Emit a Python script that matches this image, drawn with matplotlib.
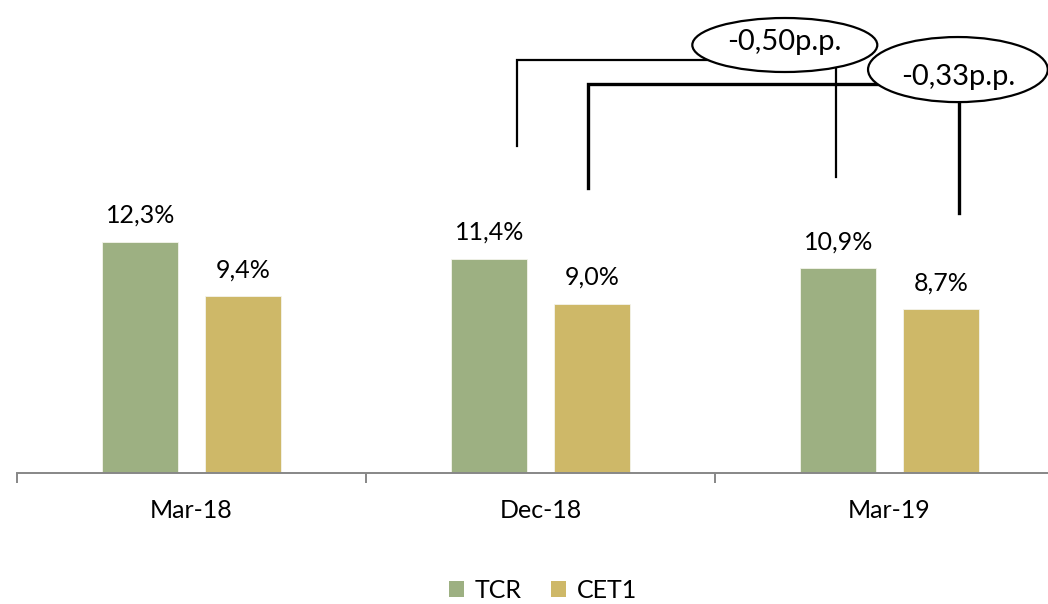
import matplotlib
matplotlib.use("Agg")
import matplotlib.pyplot as plt
from matplotlib.patches import Ellipse, Patch
import numpy as np

plt.rcParams['font.family'] = ['Lato', 'DejaVu Sans']

categories = ['Mar-18', 'Dec-18', 'Mar-19']
tcr = [12.3, 11.4, 10.9]
cet1 = [9.4, 9.0, 8.7]
series_names = ['TCR', 'CET1']
colors = ['#9DB082', '#CEB868']

# change callouts: text, bracket (x_left, y_left_bottom, x_right, y_right_bottom, y_top), line width
callouts = [
    ('-0,50p.p.', (0.933, 17.4, 1.847, 15.75, 22.0), 1.6),
    ('-0,33p.p.', (1.136, 15.15, 2.199, 13.85, 20.7), 2.4),
]
# ellipse centre, size and text position for each callout
ellipses = [
    ((1.700, 22.8), (0.530, 2.88), 22.95),
    ((2.196, 21.49), (0.515, 3.47), 21.1),
]

W, H = 1048, 604
fig = plt.figure(figsize=(W / 100, H / 100), dpi=100)
ax = fig.add_axes([17 / W, 131.5 / H, 1047 / W, 468.75 / H])

x = np.arange(len(categories))
off, bw = 0.147, 0.218
b1 = ax.bar(x - off, tcr, bw, color=colors[0], edgecolor='#f4f4ec', linewidth=0.6)
b2 = ax.bar(x + off, cet1, bw, color=colors[1], edgecolor='#f4f4ec', linewidth=0.6)

for bars, vals in ((b1, tcr), (b2, cet1)):
    for r, v in zip(bars, vals):
        ax.annotate(('%.1f%%' % v).replace('.', ','),
                    (r.get_x() + r.get_width() / 2, v),
                    xytext=(0, 19), textcoords='offset points',
                    ha='center', va='center', fontsize=18)

ax.set_xlim(-0.5, 2.5)
ax.set_ylim(0, 25)
for s in ('left', 'top', 'right'):
    ax.spines[s].set_visible(False)
ax.spines['bottom'].set_color('#878787')
ax.spines['bottom'].set_linewidth(1.4)
ax.set_yticks([])
ax.set_xticks([-0.5, 0.5, 1.5, 2.5])
ax.set_xticklabels([])
ax.tick_params(axis='x', which='major', length=7, width=1.4, color='#878787')
ax.set_xticks(x, minor=True)
ax.set_xticklabels(categories, minor=True, fontsize=18)
ax.tick_params(axis='x', which='minor', length=0, pad=19)

for text, (xl, yl, xr, yr, yt), lw in callouts:
    ax.plot([xl, xl, xr, xr], [yl, yt, yt, yr], color='black', lw=lw,
            solid_joinstyle='miter', clip_on=False, zorder=3)

for (text, _, _), ((ex, ey), (ew, eh), ty) in zip(callouts, ellipses):
    ax.add_patch(Ellipse((ex, ey), ew, eh, facecolor='white', edgecolor='black',
                         lw=1.6, clip_on=False, zorder=4))
    ax.text(ex, ty, text, ha='center', va='center', fontsize=21, zorder=5)

handles = [Patch(facecolor=c, label=n) for c, n in zip(colors, series_names)]
fig.legend(handles=handles, loc='center', bbox_to_anchor=(543 / W, 14 / H),
           ncol=2, frameon=False, fontsize=18, handlelength=0.6, handleheight=0.6,
           handletextpad=0.4, columnspacing=1.2)

fig.savefig('out.png', dpi=100)
